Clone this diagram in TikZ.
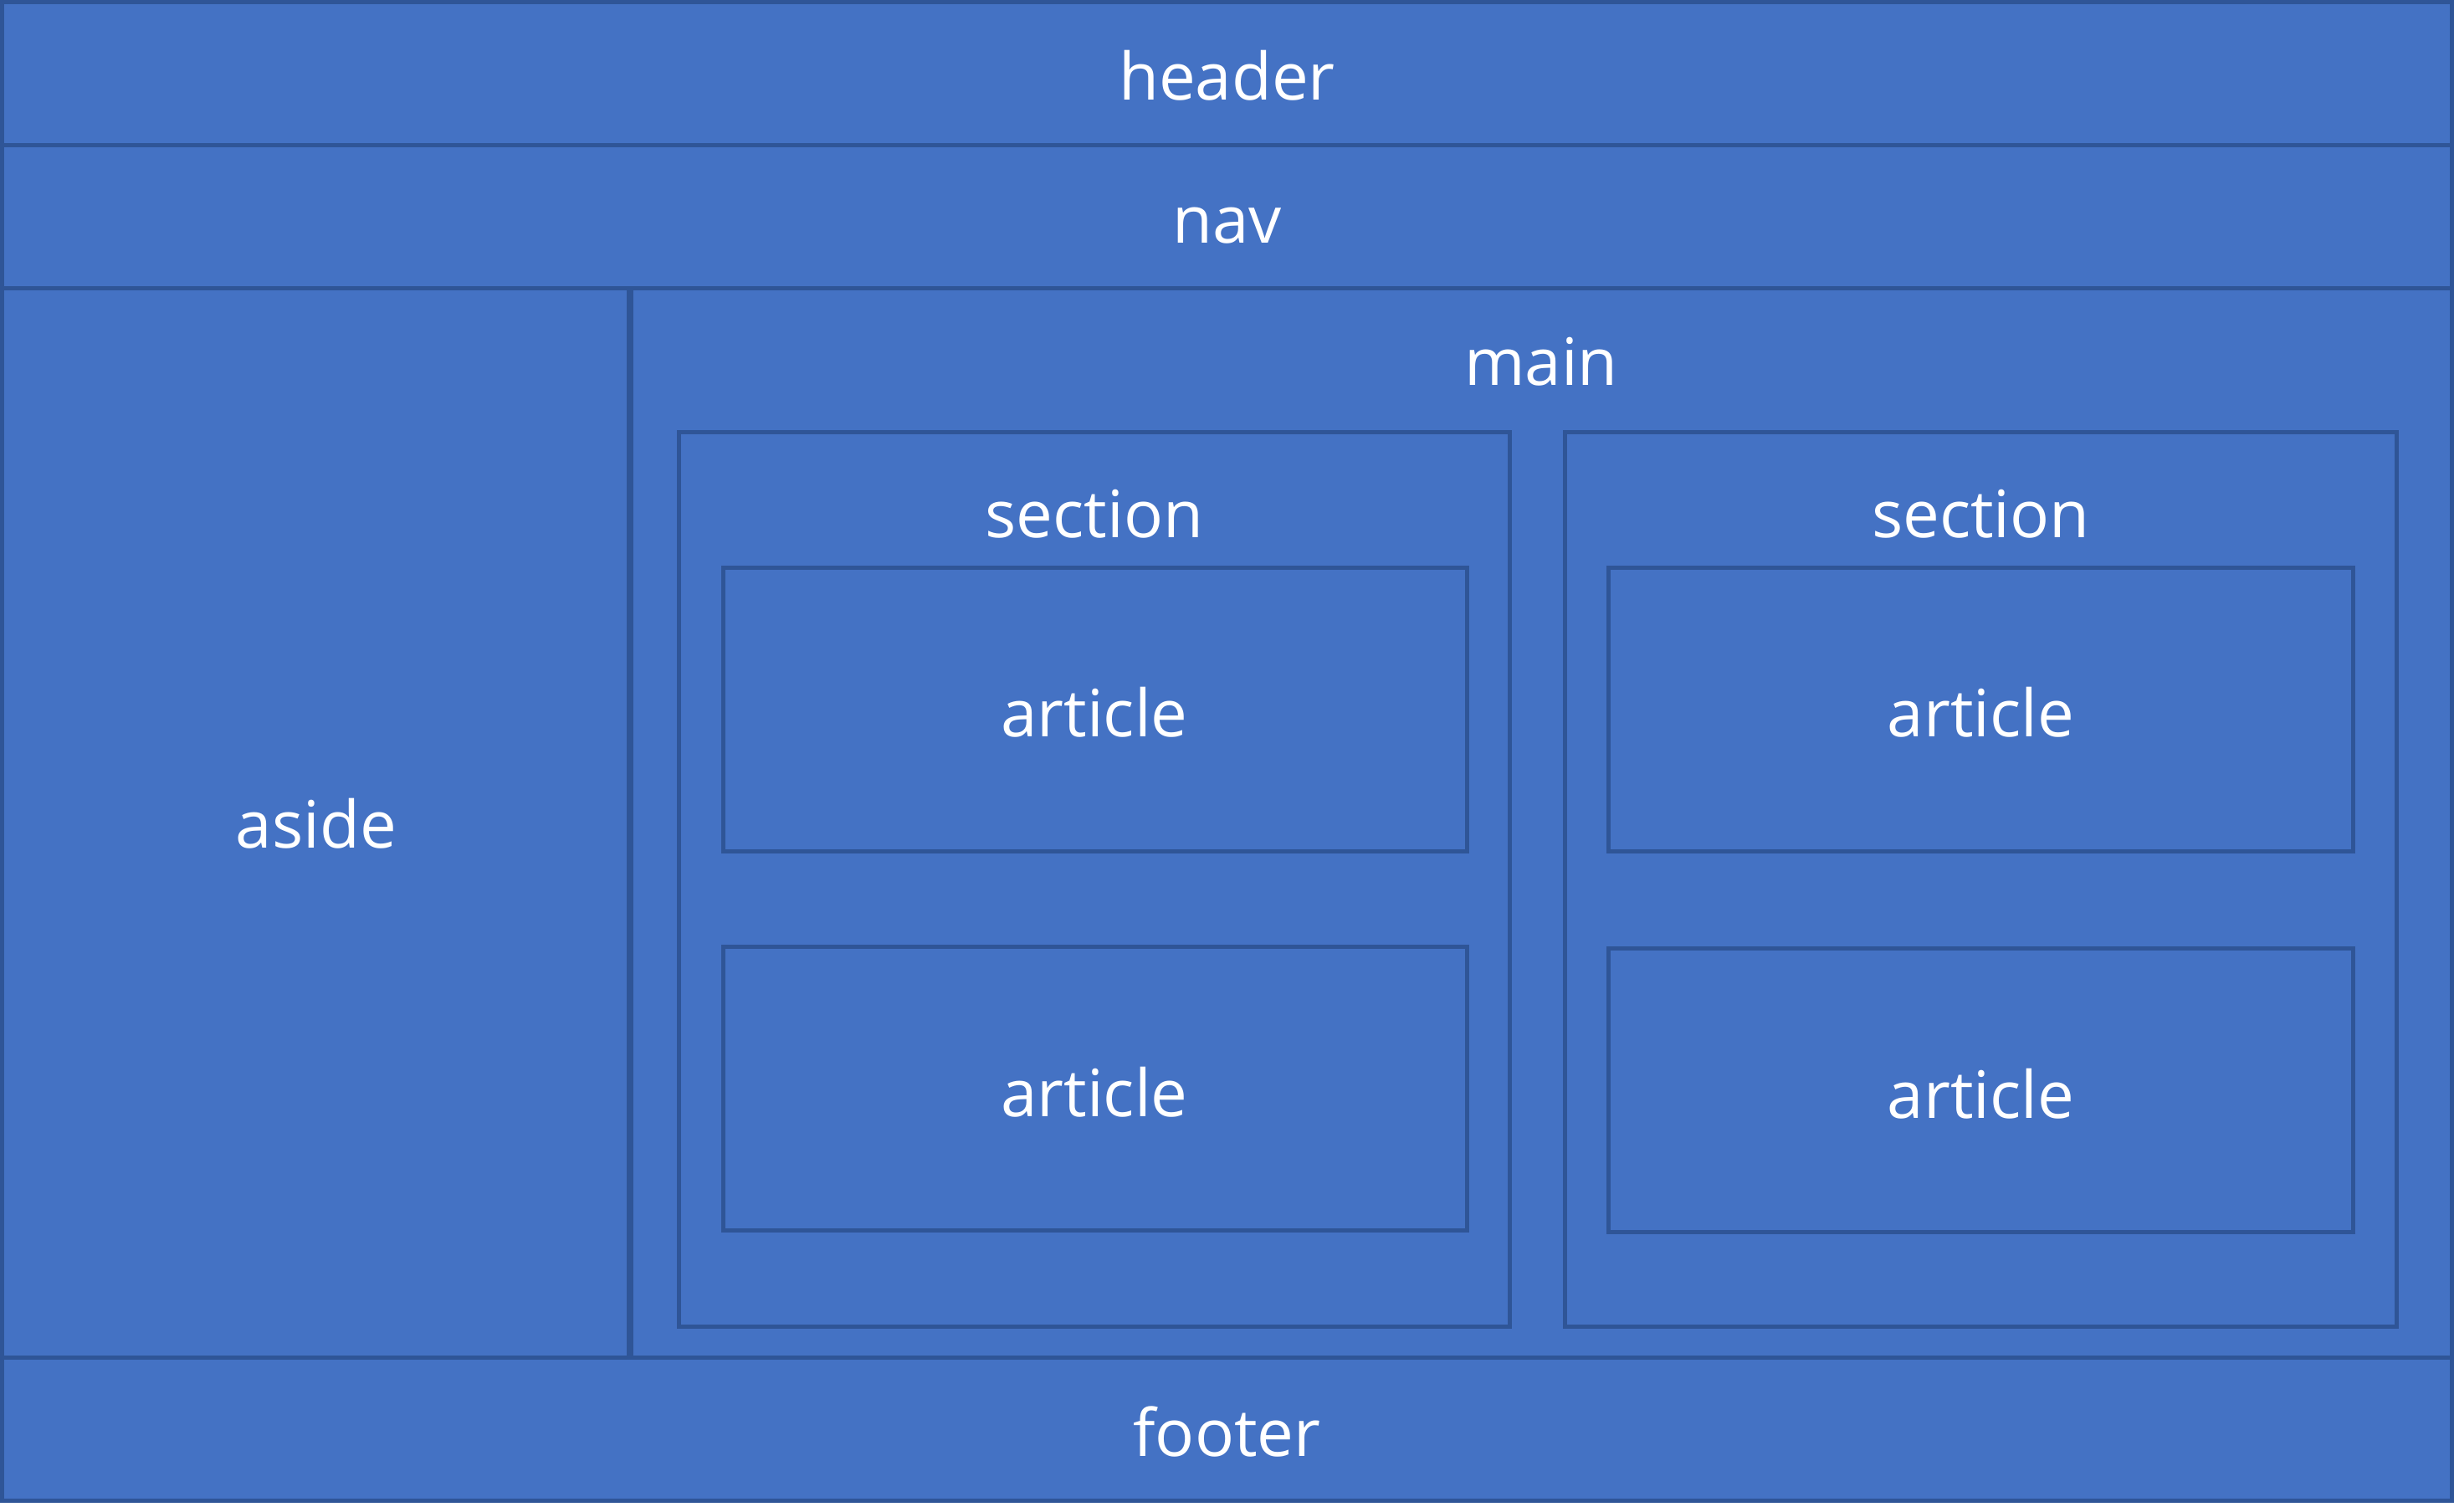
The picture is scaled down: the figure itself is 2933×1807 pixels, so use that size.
\documentclass[tikz,border=0pt]{standalone}
\usepackage{fontspec}
\setmainfont{Open Sans}
\usetikzlibrary{positioning}
\definecolor{boxfill}{HTML}{4472C4}
\definecolor{boxline}{HTML}{2F5597}

\begin{document}
\begin{tikzpicture}[x=0.01cm, y=-0.01cm,
    region/.style={fill=boxfill, draw=boxline, line width=1.42pt},
    tag/.style={text=white, font=\fontsize{22.2}{27}\selectfont, anchor=base, inner sep=0pt}]
    \useasboundingbox (0,0) rectangle (2933,1807);
    % page bands
    \draw[region] (2.5,2.5) rectangle (2930.5,173.5);
    \draw[region] (2.5,173.5) rectangle (2930.5,344.5);
    \draw[region] (2.5,344.5) rectangle (751.5,1622.5);
    \draw[region] (754.5,344.5) rectangle (2930.5,1622.5);
    \node[tag] (header) at (1466.5,120) {header};
    \node[tag] (nav) at (1466.5,291) {nav};
    \node[tag] (aside) at (378,1014) {aside};
    \node[tag] (main) at (1842,461) {main};
    \draw[region] (2.5,1622.5) rectangle (2930.5,1793.5);
    \node[tag] (footer) at (1466.5,1740) {footer};
    % two sections, each holding two articles
    \foreach \sl/\sr/\al/\ar/\lo/\n in {811.5/1804.5/864.5/1753.5/1131.5/1, 1870.5/2864.5/1922.5/2812.5/1133.5/2} {
      \pgfmathsetmacro{\cx}{(\sl+\sr)/2}
      \draw[region] (\sl,516.5) rectangle (\sr,1585.5);
      \node[tag] (section\n) at (\cx,643) {section};
      \draw[region] (\al,678.5) rectangle (\ar,1017.5);
      \node[tag] (article\n a) at (\cx,881) {article};
      \draw[region] (\al,\lo) rectangle (\ar,\lo+339);
      \node[tag] (article\n b) at (\cx,\lo+203) {article};
    }
\end{tikzpicture}
\end{document}
